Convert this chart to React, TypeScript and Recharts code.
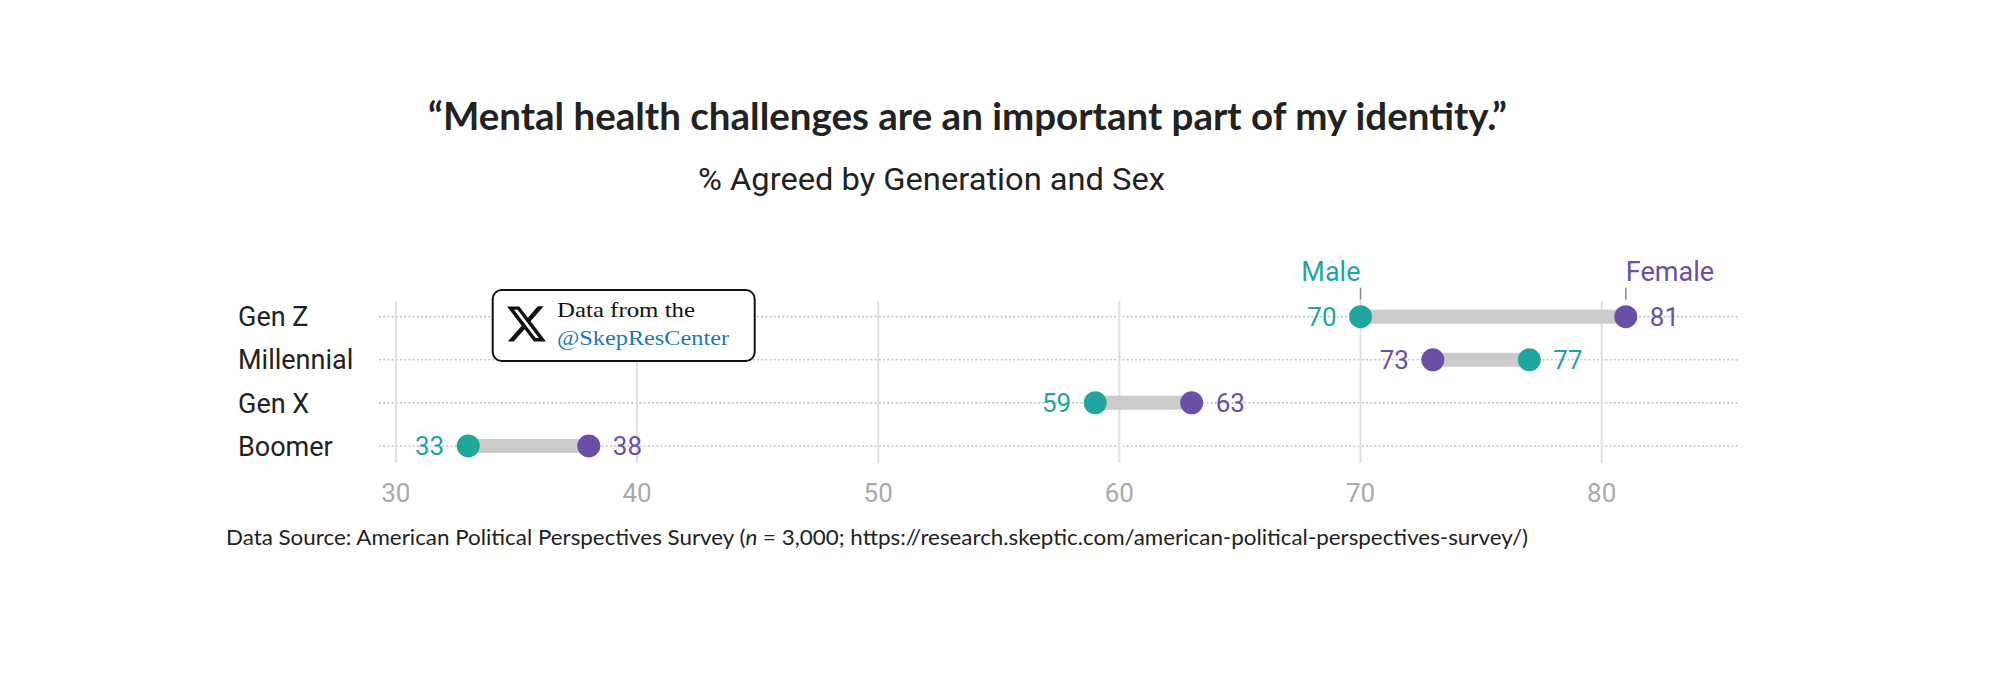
import React from "react";
import {
  ScatterChart,
  Scatter,
  XAxis,
  YAxis,
  ReferenceLine,
} from "recharts";

const generations = ["Gen Z", "Millennial", "Gen X", "Boomer"];
const malePct = [70, 77, 59, 33];
const femalePct = [81, 73, 63, 38];
const rowPos = [4, 3, 2, 1];
const xTicks = [30, 40, 50, 60, 70, 80];

const TEAL = "#1fa69e";
const PURPLE = "#6a4fa6";

const maleData = generations.map((g, i) => ({
  gen: g,
  x: malePct[i],
  y: rowPos[i],
  side: malePct[i] < femalePct[i] ? "left" : "right",
}));
const femaleData = generations.map((g, i) => ({
  gen: g,
  x: femalePct[i],
  y: rowPos[i],
  side: femalePct[i] < malePct[i] ? "left" : "right",
}));

function makeDot(color: string, legend: string, legendAnchor: "start" | "end") {
  return (props: any) => {
    const { cx, cy, payload } = props;
    const left = payload.side === "left";
    return (
      <g>
        <circle cx={cx} cy={cy} r={11.5} fill={color} />
        <text
          x={left ? cx - 24 : cx + 24}
          y={cy}
          dy="0.36em"
          textAnchor={left ? "end" : "start"}
          fill={color}
          fontSize={26}
          fontFamily="Roboto, sans-serif"
        >
          {payload.x}
        </text>
        {payload.gen === generations[0] && (
          <g>
            <line x1={cx} x2={cx} y1={cy - 29} y2={cy - 17} stroke="#888" strokeWidth={1.5} />
            <text
              x={cx}
              y={cy - 36}
              textAnchor={legendAnchor}
              fill={color}
              fontSize={27}
              fontFamily="Roboto, sans-serif"
            >
              {legend}
            </text>
          </g>
        )}
      </g>
    );
  };
}

const MaleDot = makeDot(TEAL, "Male", "end");
const FemaleDot = makeDot(PURPLE, "Female", "start");

const GenTick = (props: any) => {
  const { y, payload } = props;
  const idx = rowPos.indexOf(payload.value);
  return (
    <text x={238} y={y} dy="0.36em" fill="#222" fontSize={27} fontFamily="Roboto, sans-serif">
      {generations[idx]}
    </text>
  );
};

const XLogo = () => (
  <path
    transform="translate(507 304.5) scale(1.625)"
    d="M18.901 1.153h3.68l-8.04 9.19L24 22.846h-7.406l-5.8-7.584-6.638 7.584H.474l8.6-9.83L0 1.154h7.594l5.243 6.932ZM17.61 20.644h2.039L6.486 3.24H4.298Z"
    fill="#111"
  />
);

export default function App() {
  return (
    <div style={{ position: "relative", width: 2000, height: 679, margin: -8, background: "#fff" }}>
      <ScatterChart
        width={2000}
        height={679}
        margin={{ top: 300.7, right: 262.3, left: 238, bottom: 176 }}
      >
        <XAxis
          type="number"
          dataKey="x"
          domain={[29.3, 85.64]}
          ticks={xTicks}
          axisLine={false}
          tickLine={false}
          tickMargin={15}
          height={40}
          tick={{ fill: "#aaa", fontSize: 26, fontFamily: "Roboto, sans-serif" }}
        />
        <YAxis
          type="number"
          dataKey="y"
          domain={[0.605, 4.37]}
          ticks={rowPos}
          axisLine={false}
          tickLine={false}
          width={141}
          tick={<GenTick />}
        />
        {/* dotted row guides */}
        {rowPos.map((p) => (
          <ReferenceLine
            key={"row" + p}
            y={p}
            stroke="#c4c4c4"
            strokeWidth={1.6}
            strokeDasharray="2 2.2"
          />
        ))}
        {/* solid value gridlines */}
        {xTicks.map((t) => (
          <ReferenceLine key={"tick" + t} x={t} stroke="#e0e0e0" strokeWidth={2} />
        ))}
        {generations.map((g, i) => (
          <ReferenceLine
            key={g}
            segment={[
              { x: malePct[i], y: rowPos[i] },
              { x: femalePct[i], y: rowPos[i] },
            ]}
            stroke="#cbcbcb"
            strokeWidth={14}
          />
        ))}
        <Scatter name="Male" data={maleData} shape={MaleDot} isAnimationActive={false} />
        <Scatter name="Female" data={femaleData} shape={FemaleDot} isAnimationActive={false} />
      </ScatterChart>
      <svg
        width={2000}
        height={679}
        style={{ position: "absolute", left: 0, top: 0, pointerEvents: "none" }}
      >
        <text
          x={428}
          y={130}
          fontFamily="Lato, sans-serif"
          fontWeight={700}
          fontSize={38}
          fill="#222"
          textLength={1079}
          lengthAdjust="spacingAndGlyphs"
        >
          “Mental health challenges are an important part of my identity.”
        </text>
        <text
          x={698}
          y={190}
          fontFamily="Roboto, sans-serif"
          fontSize={31}
          fill="#222"
          textLength={467}
          lengthAdjust="spacingAndGlyphs"
        >
          % Agreed by Generation and Sex
        </text>
        <g>
          <rect x={492.7} y={290} width={262} height={71} rx={9} fill="#fff" stroke="#111" strokeWidth={2} />
          <XLogo />
          <text
            x={557}
            y={317}
            fontFamily="'Liberation Serif', serif"
            fontSize={22}
            fill="#111"
            textLength={138}
            lengthAdjust="spacingAndGlyphs"
          >
            Data from the
          </text>
          <text
            x={557}
            y={345}
            fontFamily="'Liberation Serif', serif"
            fontSize={22}
            fill="#1b78bd"
            textLength={172}
            lengthAdjust="spacingAndGlyphs"
          >
            @SkepResCenter
          </text>
        </g>
        <text
          x={226}
          y={545}
          fontFamily="Lato, sans-serif"
          fontSize={21}
          fill="#222"
          textLength={1302}
          lengthAdjust="spacingAndGlyphs"
        >
          Data Source: American Political Perspectives Survey (<tspan fontStyle="italic">n</tspan> = 3,000;
          https://research.skeptic.com/american-political-perspectives-survey/)
        </text>
      </svg>
    </div>
  );
}
